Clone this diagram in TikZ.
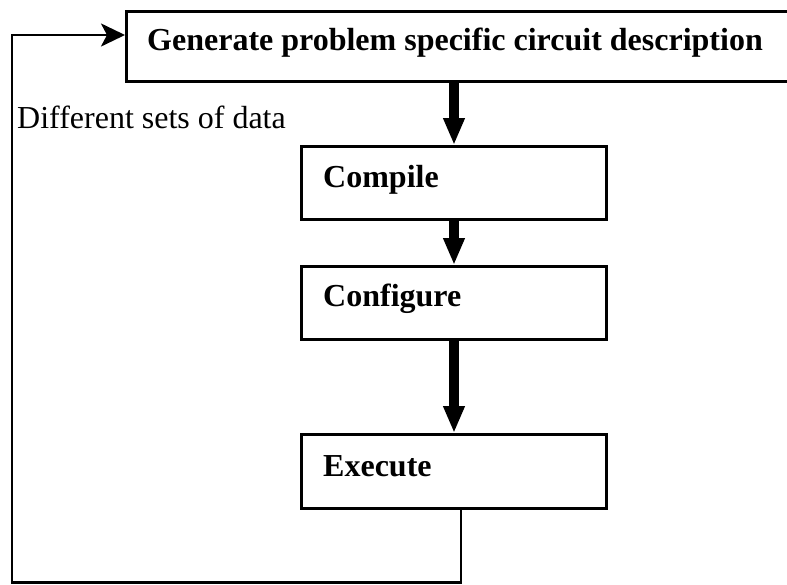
\documentclass[tikz,border=0pt]{standalone}
\usepackage{fontspec}
\setmainfont{Liberation Serif}
\usetikzlibrary{arrows.meta,calc}
\begin{document}
\begin{tikzpicture}[x=1pt,y=-1pt,
  box/.style={draw, line width=3pt, anchor=north west, inner sep=0pt,
    minimum width=305pt, minimum height=73pt},
  txt/.style={anchor=base west, inner sep=0pt, font=\fontsize{32}{38}\selectfont},
  flow/.style={line width=10pt, -{Triangle[length=27pt,width=20pt]}},
  backline/.style={line width=2.6pt, -{Stealth[length=24pt,width=23pt,inset=6pt]}}]
  \useasboundingbox (0,0) rectangle (787,584);

  % process boxes
  \node[box, minimum width=675pt, minimum height=70pt] (gen) at (125,10) {};
  \node[box] (compile) at (300,145) {};
  \node[box] (configure) at (300,265) {};
  \node[box, minimum height=74pt] (execute) at (300,433) {};

  % texts
  \node[txt] (tgen) at (147,50) {\bfseries Generate problem specific circuit description};
  \node[txt] (tdata) at (17,128) {Different sets of data};
  \node[txt] (tcompile) at (323,187) {\bfseries Compile};
  \node[txt] (tconfigure) at (323,306) {\bfseries Configure};
  \node[txt] (texecute) at (323,476) {\bfseries Execute};

  % main flow
  \draw[flow] (compile.north |- gen.south) -- (compile.north);
  \draw[flow] (compile.south) -- (configure.north);
  \draw[flow] (configure.south) -- (execute.north);

  % feedback path with new data
  \coordinate (start) at ($(execute.south west)+(161,0)$);
  \coordinate (c1) at (461,582.7);
  \coordinate (c2) at (12,582.7);
  \coordinate (c3) at (12,35);
  \draw[backline] (start) -- (c1) -- (c2) -- (c3) -- (c3 -| gen.west);
\end{tikzpicture}
\end{document}
